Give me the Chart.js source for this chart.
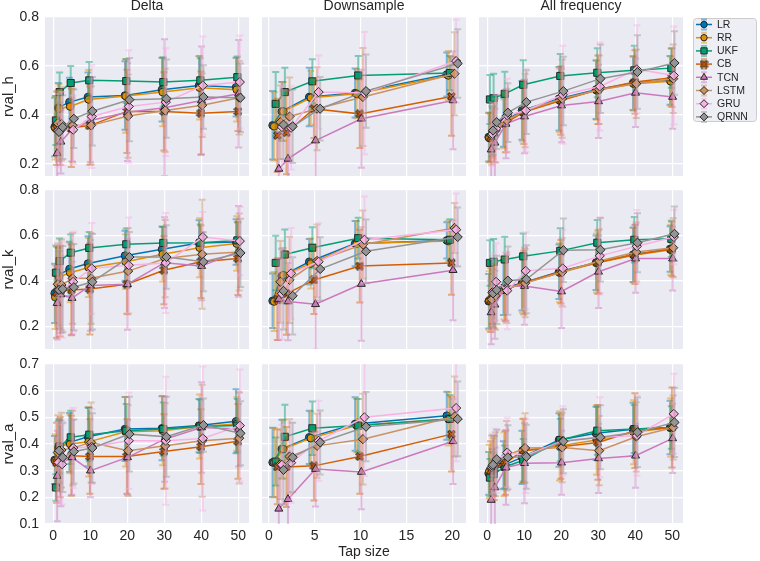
<!DOCTYPE html>
<html>
<head>
<meta charset="utf-8">
<script src="https://cdn.jsdelivr.net/npm/chart.js@4.4.1/dist/chart.umd.min.js"></script>
<style>
  html, body { margin: 0; padding: 0; background: #fff; }
  #wrap { position: relative; width: 760px; height: 561px; overflow: hidden; }
  #wrap canvas { position: absolute; }
</style>
</head>
<body>
<div id="wrap"></div>
<script>
/* ============================================================
   rval grid — 3 targets x 3 input modes, 8 models, error bars
============================================================ */

const SERIES = ['LR', 'RR', 'UKF', 'CB', 'TCN', 'LSTM', 'GRU', 'QRNN'];
const TAP_DELTA = [1, 2, 5, 10, 20, 30, 40, 50];
const TAP_DOWN = [1, 2, 5, 10, 20];
const TAP_ALL = [1, 2, 5, 10, 20, 30, 40, 50];
const X_TICKS_WIDE = [0, 10, 20, 30, 40, 50];
const X_TICKS_DOWN = [0, 5, 10, 15, 20];
const Y_TICKS_HK = [0.2, 0.4, 0.6, 0.8];
const Y_TICKS_A = [0.1, 0.2, 0.3, 0.4, 0.5, 0.6, 0.7];
const COL_TITLES = ['Delta', 'Downsample', 'All frequency'];
const ROW_LABELS = ['rval_h', 'rval_k', 'rval_a'];

// one row per model (SERIES order), one value per tap size
const deltaH = [
  [0.350, 0.430, 0.452, 0.473, 0.479, 0.503, 0.520, 0.513],
  [0.347, 0.425, 0.434, 0.463, 0.477, 0.493, 0.511, 0.503],
  [0.377, 0.493, 0.530, 0.541, 0.538, 0.534, 0.541, 0.554],
  [0.345, 0.345, 0.347, 0.356, 0.414, 0.414, 0.407, 0.414],
  [0.243, 0.290, 0.340, 0.377, 0.411, 0.429, 0.459, 0.486],
  [0.366, 0.363, 0.357, 0.357, 0.395, 0.418, 0.439, 0.470],
  [0.336, 0.343, 0.339, 0.393, 0.434, 0.452, 0.520, 0.534],
  [0.330, 0.350, 0.384, 0.415, 0.462, 0.466, 0.473, 0.470],
];
const deltaHErr = [
  [0.12, 0.10, 0.10, 0.10, 0.14, 0.13, 0.12, 0.12],
  [0.13, 0.10, 0.10, 0.12, 0.15, 0.14, 0.13, 0.13],
  [0.10, 0.08, 0.07, 0.075, 0.09, 0.10, 0.09, 0.085],
  [0.15, 0.15, 0.16, 0.16, 0.17, 0.16, 0.17, 0.08],
  [0.12, 0.13, 0.13, 0.17, 0.20, 0.28, 0.22, 0.22],
  [0.13, 0.15, 0.15, 0.16, 0.17, 0.17, 0.13, 0.15],
  [0.15, 0.15, 0.14, 0.21, 0.23, 0.22, 0.20, 0.19],
  [0.12, 0.13, 0.12, 0.14, 0.17, 0.16, 0.13, 0.14],
];
const downH = [
  [0.357, 0.414, 0.473, 0.489, 0.565],
  [0.353, 0.414, 0.470, 0.486, 0.561],
  [0.445, 0.493, 0.537, 0.561, 0.571],
  [0.316, 0.327, 0.425, 0.404, 0.475],
  [0.179, 0.220, 0.295, 0.384, 0.459],
  [0.370, 0.393, 0.425, 0.473, 0.568],
  [0.350, 0.347, 0.493, 0.489, 0.620],
  [0.360, 0.353, 0.425, 0.497, 0.610],
];
const downHErr = [
  [0.14, 0.12, 0.12, 0.10, 0.09],
  [0.14, 0.12, 0.11, 0.10, 0.10],
  [0.13, 0.10, 0.09, 0.08, 0.07],
  [0.15, 0.17, 0.12, 0.14, 0.16],
  [0.15, 0.17, 0.19, 0.20, 0.20],
  [0.15, 0.16, 0.17, 0.20, 0.17],
  [0.17, 0.17, 0.15, 0.25, 0.17],
  [0.14, 0.15, 0.13, 0.15, 0.14],
];
const allH = [
  [0.309, 0.330, 0.370, 0.418, 0.466, 0.503, 0.530, 0.541],
  [0.305, 0.322, 0.363, 0.411, 0.459, 0.500, 0.527, 0.537],
  [0.463, 0.468, 0.486, 0.523, 0.559, 0.572, 0.582, 0.591],
  [0.309, 0.326, 0.367, 0.411, 0.459, 0.503, 0.534, 0.552],
  [0.258, 0.286, 0.363, 0.393, 0.438, 0.455, 0.490, 0.473],
  [0.316, 0.336, 0.377, 0.418, 0.466, 0.503, 0.527, 0.548],
  [0.322, 0.343, 0.398, 0.418, 0.482, 0.516, 0.586, 0.561],
  [0.336, 0.370, 0.409, 0.452, 0.497, 0.548, 0.575, 0.612],
];
const allHErr = [
  [0.10, 0.10, 0.10, 0.12, 0.13, 0.12, 0.11, 0.10],
  [0.10, 0.10, 0.10, 0.12, 0.13, 0.12, 0.11, 0.10],
  [0.10, 0.10, 0.09, 0.10, 0.09, 0.10, 0.10, 0.08],
  [0.10, 0.12, 0.12, 0.13, 0.14, 0.14, 0.13, 0.12],
  [0.12, 0.14, 0.14, 0.15, 0.15, 0.15, 0.14, 0.13],
  [0.12, 0.13, 0.13, 0.15, 0.16, 0.14, 0.14, 0.14],
  [0.13, 0.14, 0.15, 0.17, 0.20, 0.18, 0.18, 0.20],
  [0.10, 0.11, 0.12, 0.13, 0.14, 0.14, 0.15, 0.13],
];

const deltaK = [
  [0.345, 0.425, 0.452, 0.476, 0.511, 0.539, 0.567, 0.571],
  [0.328, 0.418, 0.436, 0.459, 0.484, 0.517, 0.546, 0.564],
  [0.436, 0.487, 0.524, 0.545, 0.561, 0.567, 0.568, 0.578],
  [0.350, 0.355, 0.360, 0.364, 0.385, 0.447, 0.484, 0.498],
  [0.302, 0.340, 0.324, 0.380, 0.385, 0.480, 0.465, 0.530],
  [0.385, 0.382, 0.411, 0.411, 0.443, 0.498, 0.517, 0.527],
  [0.360, 0.360, 0.396, 0.455, 0.469, 0.479, 0.593, 0.575],
  [0.360, 0.364, 0.372, 0.396, 0.505, 0.505, 0.484, 0.523],
];
const deltaKErr = [
  [0.13, 0.12, 0.12, 0.12, 0.11, 0.10, 0.10, 0.10],
  [0.14, 0.13, 0.13, 0.13, 0.12, 0.12, 0.13, 0.12],
  [0.12, 0.10, 0.08, 0.07, 0.07, 0.07, 0.08, 0.08],
  [0.20, 0.20, 0.20, 0.20, 0.13, 0.15, 0.16, 0.16],
  [0.16, 0.17, 0.16, 0.20, 0.20, 0.20, 0.15, 0.20],
  [0.18, 0.20, 0.20, 0.20, 0.19, 0.17, 0.24, 0.17],
  [0.20, 0.21, 0.22, 0.20, 0.21, 0.22, 0.11, 0.15],
  [0.17, 0.19, 0.19, 0.21, 0.11, 0.14, 0.13, 0.15],
];
const downK = [
  [0.312, 0.421, 0.484, 0.564, 0.578],
  [0.309, 0.425, 0.476, 0.564, 0.575],
  [0.479, 0.516, 0.546, 0.588, 0.581],
  [0.320, 0.343, 0.404, 0.465, 0.479],
  [0.320, 0.309, 0.297, 0.386, 0.447],
  [0.396, 0.404, 0.488, 0.560, 0.633],
  [0.343, 0.433, 0.484, 0.581, 0.625],
  [0.356, 0.334, 0.452, 0.530, 0.593],
];
const downKErr = [
  [0.12, 0.12, 0.10, 0.10, 0.08],
  [0.13, 0.12, 0.11, 0.10, 0.09],
  [0.12, 0.11, 0.09, 0.09, 0.09],
  [0.18, 0.18, 0.15, 0.16, 0.14],
  [0.18, 0.17, 0.20, 0.25, 0.22],
  [0.18, 0.19, 0.16, 0.15, 0.11],
  [0.20, 0.20, 0.17, 0.19, 0.16],
  [0.17, 0.17, 0.14, 0.14, 0.13],
];
const allK = [
  [0.310, 0.330, 0.370, 0.390, 0.440, 0.480, 0.515, 0.540],
  [0.312, 0.328, 0.360, 0.389, 0.436, 0.479, 0.513, 0.537],
  [0.479, 0.484, 0.494, 0.508, 0.532, 0.568, 0.581, 0.585],
  [0.315, 0.330, 0.362, 0.392, 0.440, 0.482, 0.516, 0.540],
  [0.261, 0.295, 0.375, 0.377, 0.353, 0.440, 0.498, 0.498],
  [0.318, 0.335, 0.365, 0.390, 0.438, 0.487, 0.527, 0.546],
  [0.350, 0.396, 0.357, 0.444, 0.455, 0.510, 0.552, 0.593],
  [0.345, 0.360, 0.401, 0.407, 0.535, 0.537, 0.568, 0.607],
];
const allKErr = [
  [0.12, 0.12, 0.12, 0.12, 0.12, 0.12, 0.12, 0.10],
  [0.13, 0.13, 0.13, 0.13, 0.13, 0.13, 0.12, 0.11],
  [0.10, 0.10, 0.10, 0.10, 0.10, 0.10, 0.10, 0.08],
  [0.14, 0.14, 0.14, 0.14, 0.14, 0.14, 0.13, 0.12],
  [0.14, 0.15, 0.15, 0.17, 0.16, 0.16, 0.15, 0.14],
  [0.14, 0.15, 0.15, 0.15, 0.15, 0.14, 0.13, 0.13],
  [0.17, 0.17, 0.17, 0.17, 0.17, 0.17, 0.16, 0.12],
  [0.15, 0.15, 0.15, 0.15, 0.14, 0.14, 0.13, 0.12],
];

const deltaA = [
  [0.340, 0.385, 0.406, 0.427, 0.456, 0.459, 0.469, 0.485],
  [0.337, 0.393, 0.400, 0.408, 0.446, 0.450, 0.466, 0.475],
  [0.237, 0.390, 0.425, 0.435, 0.450, 0.456, 0.466, 0.469],
  [0.330, 0.350, 0.356, 0.353, 0.353, 0.372, 0.390, 0.410],
  [0.280, 0.327, 0.350, 0.300, 0.350, 0.418, 0.462, 0.456],
  [0.368, 0.377, 0.385, 0.406, 0.375, 0.393, 0.412, 0.422],
  [0.331, 0.324, 0.385, 0.390, 0.412, 0.412, 0.421, 0.469],
  [0.375, 0.350, 0.372, 0.385, 0.437, 0.427, 0.471, 0.440],
];
const deltaAErr = [
  [0.09, 0.10, 0.11, 0.11, 0.12, 0.12, 0.10, 0.12],
  [0.10, 0.10, 0.11, 0.13, 0.13, 0.13, 0.12, 0.10],
  [0.05, 0.10, 0.10, 0.10, 0.10, 0.10, 0.10, 0.10],
  [0.15, 0.15, 0.15, 0.14, 0.14, 0.14, 0.14, 0.14],
  [0.17, 0.16, 0.14, 0.10, 0.14, 0.16, 0.17, 0.14],
  [0.14, 0.14, 0.14, 0.15, 0.17, 0.16, 0.21, 0.17],
  [0.15, 0.15, 0.15, 0.14, 0.18, 0.24, 0.27, 0.21],
  [0.12, 0.13, 0.12, 0.13, 0.14, 0.15, 0.10, 0.12],
];
const downA = [
  [0.331, 0.381, 0.425, 0.475, 0.506],
  [0.330, 0.381, 0.422, 0.469, 0.494],
  [0.334, 0.427, 0.459, 0.469, 0.494],
  [0.314, 0.314, 0.318, 0.353, 0.437],
  [0.157, 0.193, 0.306, 0.295, 0.410],
  [0.324, 0.353, 0.393, 0.418, 0.503],
  [0.322, 0.330, 0.412, 0.500, 0.535],
  [0.303, 0.350, 0.406, 0.465, 0.494],
];
const downAErr = [
  [0.13, 0.11, 0.10, 0.10, 0.09],
  [0.13, 0.11, 0.10, 0.10, 0.10],
  [0.09, 0.12, 0.10, 0.10, 0.09],
  [0.14, 0.15, 0.13, 0.14, 0.14],
  [0.16, 0.18, 0.14, 0.14, 0.16],
  [0.13, 0.14, 0.12, 0.17, 0.15],
  [0.15, 0.15, 0.15, 0.22, 0.20],
  [0.13, 0.13, 0.12, 0.13, 0.14],
];
const allA = [
  [0.290, 0.300, 0.320, 0.350, 0.415, 0.440, 0.455, 0.462],
  [0.297, 0.312, 0.324, 0.375, 0.393, 0.415, 0.444, 0.462],
  [0.274, 0.287, 0.314, 0.339, 0.415, 0.450, 0.456, 0.462],
  [0.300, 0.310, 0.330, 0.375, 0.390, 0.406, 0.450, 0.462],
  [0.190, 0.237, 0.312, 0.328, 0.330, 0.346, 0.356, 0.421],
  [0.312, 0.324, 0.356, 0.385, 0.387, 0.375, 0.427, 0.462],
  [0.318, 0.337, 0.368, 0.356, 0.412, 0.425, 0.431, 0.513],
  [0.322, 0.343, 0.350, 0.352, 0.410, 0.425, 0.444, 0.481],
];
const allAErr = [
  [0.08, 0.08, 0.09, 0.10, 0.10, 0.10, 0.10, 0.10],
  [0.10, 0.11, 0.12, 0.12, 0.13, 0.13, 0.12, 0.11],
  [0.07, 0.08, 0.08, 0.08, 0.08, 0.09, 0.09, 0.08],
  [0.11, 0.12, 0.12, 0.12, 0.12, 0.14, 0.14, 0.15],
  [0.12, 0.15, 0.14, 0.15, 0.12, 0.13, 0.12, 0.13],
  [0.12, 0.12, 0.13, 0.13, 0.13, 0.13, 0.13, 0.12],
  [0.12, 0.12, 0.13, 0.14, 0.13, 0.15, 0.15, 0.15],
  [0.11, 0.11, 0.12, 0.12, 0.12, 0.12, 0.13, 0.13],
];

/* ---------------- styling ---------------- */
const COLORS = ['#0173B2', '#DE8F05', '#029E73', '#D55E00', '#CC78BC', '#CA9161', '#FBAFE4', '#949494'];
const EDGE = '#262626';
const TEXT = '#262626';
const FONT = '"Liberation Sans", Arial, sans-serif';
const DODGE = 0.17;          // horizontal offset between models, in tap units

// small filled "X" marker for CB (dark outline, coloured core)
function xMarker(color) {
  const c = document.createElement('canvas');
  c.width = 9; c.height = 9;
  const g = c.getContext('2d');
  g.fillStyle = color;
  g.fillRect(2, 2, 5, 5);
  g.strokeStyle = EDGE; g.lineWidth = 3.2;
  g.beginPath(); g.moveTo(1.2, 1.2); g.lineTo(7.8, 7.8); g.moveTo(7.8, 1.2); g.lineTo(1.2, 7.8); g.stroke();
  g.strokeStyle = color; g.lineWidth = 1.4;
  g.beginPath(); g.moveTo(1.8, 1.8); g.lineTo(7.2, 7.2); g.moveTo(7.2, 1.8); g.lineTo(1.8, 7.2); g.stroke();
  return c;
}
const MARKERS = ['circle', 'circle', 'rect', xMarker(COLORS[3]), 'triangle', 'rectRot', 'rectRot', 'rectRot'];
const RADII = [3.8, 3.8, 5, 4.5, 4.6, 4.6, 4.6, 4.6];

function rgba(hex, a) {
  const n = parseInt(hex.slice(1), 16);
  return `rgba(${n >> 16},${(n >> 8) & 255},${n & 255},${a})`;
}

// panel grid: plot-area rectangles in page pixels
const COLS = [
  {left: 45,  taps: TAP_DELTA, min: -2.2,  max: 52.9, ticks: X_TICKS_WIDE},
  {left: 262, taps: TAP_DOWN,  min: -0.75, max: 21.5, ticks: X_TICKS_DOWN},
  {left: 479, taps: TAP_ALL,   min: -2.2,  max: 52.9, ticks: X_TICKS_WIDE},
];
const ROWS = [
  {top: 17,  height: 159, min: 0.15, max: 0.8, ticks: Y_TICKS_HK},
  {top: 190, height: 159, min: 0.10, max: 0.8, ticks: Y_TICKS_HK},
  {top: 364, height: 160, min: 0.10, max: 0.7, ticks: Y_TICKS_A},
];
const PLOT_W = 204;
const PANELS = [
  [[deltaH, deltaHErr], [downH, downHErr], [allH, allHErr]],
  [[deltaK, deltaKErr], [downK, downKErr], [allK, allKErr]],
  [[deltaA, deltaAErr], [downA, downAErr], [allA, allAErr]],
];

/* ---------------- plugins ---------------- */
const panelBg = {
  id: 'panelBg',
  beforeDraw(chart) {
    const {ctx, chartArea: a} = chart;
    ctx.save();
    ctx.fillStyle = '#EAEAF2';
    ctx.fillRect(a.left, a.top, a.width, a.height);
    ctx.restore();
  },
};

// vertical error bar + caps, drawn just under each model's own line
const errorBars = {
  id: 'errorBars',
  beforeDatasetDraw(chart, args) {
    const ds = chart.data.datasets[args.index];
    if (!ds.err) return;
    const {ctx, chartArea: a} = chart;
    const ys = chart.scales.y;
    ctx.save();
    ctx.beginPath();
    ctx.rect(a.left, a.top, a.width, a.height);
    ctx.clip();
    ctx.strokeStyle = rgba(ds.borderColor, 0.45);
    ctx.lineWidth = 2;
    args.meta.data.forEach((pt, j) => {
      const v = ds.data[j].y, e = ds.err[j];
      const y0 = ys.getPixelForValue(v - e), y1 = ys.getPixelForValue(v + e);
      ctx.beginPath();
      ctx.moveTo(pt.x, y0); ctx.lineTo(pt.x, y1);
      ctx.moveTo(pt.x - 3.5, y0); ctx.lineTo(pt.x + 3.5, y0);
      ctx.moveTo(pt.x - 3.5, y1); ctx.lineTo(pt.x + 3.5, y1);
      ctx.stroke();
    });
    ctx.restore();
  },
};

// column heading centred over the plot area (not the whole canvas)
const colTitle = {
  id: 'colTitle',
  afterDraw(chart, args, opts) {
    if (!opts.text) return;
    const {ctx, chartArea: a} = chart;
    ctx.save();
    ctx.fillStyle = TEXT;
    ctx.font = `14px ${FONT}`;
    ctx.textAlign = 'center';
    ctx.textBaseline = 'middle';
    ctx.fillText(opts.text, (a.left + a.right) / 2, a.top - 10.5);
    ctx.restore();
  },
};

/* ---------------- panels ---------------- */
const wrap = document.getElementById('wrap');

function makePanel(r, c) {
  const col = COLS[c], row = ROWS[r];
  const [vals, errs] = PANELS[r][c];
  const pad = {
    left: c === 0 ? 0 : 20,
    right: 20,
    top: r === 0 ? row.top : 20,
    bottom: r === 2 ? 0 : 20,
  };
  const yAxisW = c === 0 ? col.left : 0;
  const xAxisH = r === 2 ? 561 - (row.top + row.height) : 0;
  const left = c === 0 ? 0 : col.left - pad.left;
  const top = r === 0 ? 0 : row.top - pad.top;
  const width = (col.left + PLOT_W + pad.right) - left;
  const height = r === 2 ? 561 - top : (row.top + row.height + pad.bottom) - top;

  const cv = document.createElement('canvas');
  cv.width = width; cv.height = height;
  cv.style.left = left + 'px';
  cv.style.top = top + 'px';
  wrap.appendChild(cv);

  const datasets = SERIES.map((name, i) => ({
    label: name,
    data: col.taps.map((t, j) => ({x: t + (i - 3.5) * DODGE, y: vals[i][j]})),
    err: errs[i],
    borderColor: COLORS[i],
    backgroundColor: COLORS[i],
    pointBackgroundColor: COLORS[i],
    pointBorderColor: EDGE,
    pointBorderWidth: 1,
    pointStyle: MARKERS[i],
    pointRadius: RADII[i],
    borderWidth: 1.5,
    order: SERIES.length - i,   // later models on top, like matplotlib
    clip: 4,
  }));

  const tickFont = {family: FONT, size: 14};
  new Chart(cv.getContext('2d'), {
    type: 'line',
    data: {datasets},
    plugins: [panelBg, errorBars, colTitle],
    options: {
      responsive: false,
      animation: false,
      events: [],
      layout: {padding: pad},
      plugins: {
        legend: {display: false},
        tooltip: {enabled: false},
        colTitle: {text: r === 0 ? COL_TITLES[c] : ''},
      },
      scales: {
        x: {
          type: 'linear',
          min: col.min, max: col.max,
          afterBuildTicks: (s) => { s.ticks = col.ticks.map(v => ({value: v})); },
          afterFit: (s) => { s.height = xAxisH; },
          border: {display: false},
          grid: {color: '#ffffff', lineWidth: 1.2, drawTicks: false},
          ticks: {display: r === 2, padding: 4, color: TEXT, font: tickFont,
                  maxRotation: 0, autoSkip: false, callback: v => String(v)},
          title: {display: r === 2 && c === 1, text: 'Tap size', color: TEXT,
                  font: tickFont, padding: {top: 0, bottom: 0}},
        },
        y: {
          type: 'linear',
          min: row.min, max: row.max,
          afterBuildTicks: (s) => { s.ticks = row.ticks.map(v => ({value: v})); },
          afterFit: (s) => { s.width = yAxisW; },
          border: {display: false},
          grid: {color: '#ffffff', lineWidth: 1.2, drawTicks: false},
          ticks: {display: c === 0, padding: 6, color: TEXT, font: tickFont,
                  callback: v => v.toFixed(1)},
          title: {display: c === 0, text: ROW_LABELS[r], color: TEXT,
                  font: {family: FONT, size: 15}, padding: {top: 0, bottom: 0}},
        },
      },
    },
  });
}

for (let r = 0; r < 3; r++) for (let c = 0; c < 3; c++) makePanel(r, c);

/* ---------------- legend ---------------- */
function drawLegend() {
  const cv = document.createElement('canvas');
  cv.width = 68; cv.height = 108;
  cv.style.left = '691px';
  cv.style.top = '16px';
  wrap.appendChild(cv);
  const g = cv.getContext('2d');

  // rounded frame
  const x0 = 2.5, y0 = 2.5, w = 63, h = 103, rr = 3;
  g.beginPath();
  g.moveTo(x0 + rr, y0);
  g.arcTo(x0 + w, y0, x0 + w, y0 + h, rr);
  g.arcTo(x0 + w, y0 + h, x0, y0 + h, rr);
  g.arcTo(x0, y0 + h, x0, y0, rr);
  g.arcTo(x0, y0, x0 + w, y0, rr);
  g.closePath();
  g.fillStyle = 'rgba(234,234,242,0.8)';
  g.fill();
  g.strokeStyle = '#cccccc';
  g.lineWidth = 1;
  g.stroke();

  SERIES.forEach((name, i) => {
    const y = 8.5 + i * 13.2;
    const mx = 13;
    // error-bar glyph
    g.strokeStyle = rgba(COLORS[i], 0.45);
    g.lineWidth = 2;
    g.beginPath();
    g.moveTo(mx, y - 5); g.lineTo(mx, y + 5);
    g.moveTo(mx - 3, y - 5); g.lineTo(mx + 3, y - 5);
    g.moveTo(mx - 3, y + 5); g.lineTo(mx + 3, y + 5);
    g.stroke();
    // line
    g.strokeStyle = COLORS[i];
    g.lineWidth = 1.5;
    g.beginPath(); g.moveTo(5, y); g.lineTo(21, y); g.stroke();
    // marker
    g.fillStyle = COLORS[i];
    g.strokeStyle = EDGE;
    g.lineWidth = 1;
    Chart.helpers.drawPoint(g, {pointStyle: MARKERS[i], radius: RADII[i] - 0.6, rotation: 0, borderWidth: 1}, mx, y);
    // label
    g.fillStyle = TEXT;
    g.font = `10.5px ${FONT}`;
    g.textAlign = 'left';
    g.textBaseline = 'middle';
    g.fillText(name, 26, y + 0.5);
  });
}
drawLegend();
</script>
</body>
</html>
